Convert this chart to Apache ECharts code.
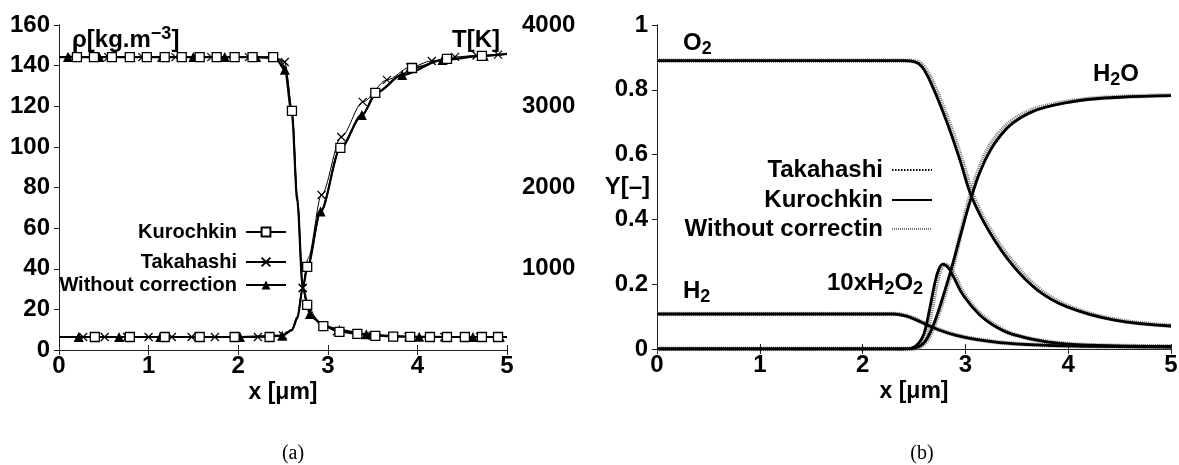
<!DOCTYPE html>
<html><head><meta charset="utf-8">
<script src="https://cdn.jsdelivr.net/npm/echarts/dist/echarts.min.js"></script>
<style>html,body{margin:0;padding:0;background:#fff}#c{width:1179px;height:465px}</style>
</head><body><div id="c"></div>
<script>
// ---------------- shared axis ticks ----------------
const xTickValues = [0, 1, 2, 3, 4, 5];
const rhoTickValues = [0, 20, 40, 60, 80, 100, 120, 140, 160];
const tempTickValues = [0, 1000, 2000, 3000, 4000];
const yTickValues = [0, 0.2, 0.4, 0.6, 0.8, 1];

// ---------------- panel (a): density rho [kg/m3] (left axis) ----------------
// points carrying a marker, and extra curve points without a marker
const rhoKurochkinMarks = [[0.2,144.2],[0.39,144.2],[0.59,144.2],[0.79,144.2],[0.98,144.2],[1.18,144.2],[1.37,144.2],[1.57,144.2],[1.76,144.2],[1.96,144.2],[2.16,144.2],[2.39,144.2],[2.6,117.7],[2.77,22.2],[2.95,11.8],[3.13,8.9],[3.33,7.9],[3.53,7.0],[3.73,6.6],[3.92,6.5],[4.14,6.4],[4.33,6.4],[4.53,6.4],[4.72,6.4],[4.9,6.4]];
const rhoKurochkinCurve = [[0,144.2],[2.46,143],[2.53,138.5],[2.66,74],[2.72,30.5],[2.85,15.2],[5,6.4]];
const rhoTakahashiMarks = [[0.14,144.2],[0.55,144.2],[0.93,144.2],[1.3,144.2],[1.7,144.2],[2.12,144.2],[2.52,141.8],[2.72,30.5],[3.1,9.2],[3.5,7.1],[3.9,6.5],[4.3,6.4],[4.7,6.4]];
const rhoTakahashiCurve = [[0,144.2],[2.42,144],[2.6,119],[2.66,76],[2.77,22.5],[2.9,13.2],[5,6.4]];
const rhoWithoutMarks = [[0.1,144.2],[0.45,144.2],[0.8,144.2],[1.15,144.2],[1.5,144.2],[1.85,144.2],[2.2,144.2],[2.52,138],[2.8,17.7],[3.13,9.8],[3.43,7.8],[3.73,6.8],[4.02,6.5],[4.32,6.4],[4.62,6.4],[4.92,6.4]];
const rhoWithoutCurve = [[0,144.2],[2.42,143.6],[2.6,116],[2.66,73],[2.72,31],[2.95,12],[5,6.4]];

// ---------------- panel (a): temperature T [K] (right axis) ----------------
const tKurochkinMarks = [[0.4,160],[0.79,160],[1.18,160],[1.57,160],[1.96,160],[2.35,160],[2.77,1022],[3.14,2487],[3.53,3164],[3.94,3471],[4.33,3582],[4.72,3619]];
const tKurochkinCurve = [[0,160],[2.5,178],[2.6,250],[2.66,400],[2.72,763],[2.92,1700],[3.39,2895],[3.83,3390],[5,3644]];
const tTakahashiMarks = [[0.27,160],[0.51,160],[0.76,160],[1.0,160],[1.26,160],[1.48,160],[1.74,160],[1.98,160],[2.22,160],[2.5,178],[2.72,763],[2.93,1908],[3.15,2622],[3.39,3053],[3.66,3324],[3.92,3480],[4.16,3557],[4.42,3607],[4.66,3625],[4.9,3636]];
const tTakahashiCurve = [[0,160],[2.6,255],[2.66,420],[2.78,1130],[5,3644]];
const tWithoutMarks = [[0.22,160],[0.67,160],[1.13,160],[1.57,160],[2.02,160],[2.49,176],[2.92,1705],[3.38,2893],[3.83,3385],[4.28,3570],[4.74,3622]];
const tWithoutCurve = [[0,160],[2.6,245],[2.66,390],[2.72,760],[2.77,1010],[3.14,2480],[3.55,3170],[5,3644]];

// ---------------- panel (b): mass fractions Y [-] ----------------
const o2Y = [[0,0.89],[2.4,0.89],[2.5,0.887],[2.58,0.87],[2.68,0.81],[2.82,0.70],[2.95,0.58],[3.06,0.47],[3.24,0.358],[3.46,0.258],[3.7,0.182],[3.99,0.13],[4.44,0.09],[5,0.071]];
const o2YWithout = [[0,0.89],[2.41,0.89],[2.52,0.887],[2.6,0.87],[2.7,0.81],[2.84,0.70],[2.97,0.58],[3.08,0.47],[3.26,0.358],[3.49,0.258],[3.73,0.182],[4.02,0.13],[4.47,0.09],[5,0.072]];
const h2oY = [[0,0],[2.42,0],[2.52,0.004],[2.6,0.02],[2.67,0.06],[2.73,0.11],[2.8,0.18],[2.87,0.255],[2.96,0.36],[3.05,0.46],[3.14,0.545],[3.24,0.612],[3.35,0.662],[3.46,0.697],[3.62,0.728],[3.79,0.747],[4.11,0.767],[4.5,0.777],[5,0.782]];
const h2oYWithout = [[0,0],[2.43,0],[2.53,0.004],[2.61,0.02],[2.68,0.06],[2.74,0.11],[2.81,0.18],[2.88,0.255],[2.96,0.365],[3.04,0.465],[3.13,0.552],[3.22,0.618],[3.33,0.667],[3.44,0.701],[3.6,0.731],[3.77,0.749],[4.09,0.768],[4.5,0.778],[5,0.783]];
const h2Y = [[0,0.108],[2.3,0.108],[2.42,0.102],[2.52,0.09],[2.62,0.075],[2.75,0.058],[2.9,0.043],[3.1,0.03],[3.4,0.018],[3.8,0.011],[4.3,0.008],[5,0.006]];
const h2YWithout = [[0,0.108],[2.31,0.108],[2.43,0.102],[2.53,0.09],[2.63,0.075],[2.76,0.058],[2.91,0.043],[3.11,0.03],[3.41,0.018],[3.81,0.011],[4.3,0.008],[5,0.006]];
const h2o2Y10 = [[0,0],[2.4,0],[2.48,0.003],[2.55,0.02],[2.6,0.05],[2.65,0.12],[2.7,0.2],[2.74,0.245],[2.78,0.262],[2.83,0.252],[2.88,0.225],[2.98,0.165],[3.14,0.105],[3.3,0.068],[3.46,0.045],[3.79,0.022],[4.2,0.012],[5,0.008]];
const h2o2Y10Without = [[0,0],[2.42,0],[2.5,0.003],[2.57,0.02],[2.62,0.05],[2.67,0.12],[2.72,0.2],[2.76,0.245],[2.8,0.26],[2.85,0.25],[2.9,0.223],[3.0,0.163],[3.16,0.104],[3.32,0.067],[3.48,0.044],[3.81,0.022],[4.2,0.012],[5,0.008]];

// ---------------- styling ----------------
const SANS = '"Liberation Sans", Arial, Helvetica, sans-serif';
const SERIF = '"Liberation Serif", "Times New Roman", serif';
const TICK_FONT = {fontFamily: SANS, fontWeight: 'bold', fontSize: 24, color: '#000'};
const AXIS_LINE = {show: true, lineStyle: {color: '#222', width: 1}};
const CROSS = 'path://M0,0L10,10M10,0L0,10';

function merged(marks, curve) {
  const pts = marks.map(p => ({value: p})).concat(curve.map(p => ({value: p, symbol: 'none'})));
  pts.sort((a, b) => a.value[0] - b.value[0]);
  return pts;
}

const styleA = {
  'Kurochkin': {symbol: 'rect', symbolSize: 9, itemStyle: {color: '#fff', borderColor: '#000', borderWidth: 1.3}, lineStyle: {color: '#000', width: 1.6}},
  'Takahashi': {symbol: CROSS, symbolSize: 8, itemStyle: {color: 'rgba(0,0,0,0)', borderColor: '#000', borderWidth: 1.2}, lineStyle: {color: '#000', width: 1}},
  'Without correction': {symbol: 'triangle', symbolSize: 10, itemStyle: {color: '#000', borderColor: '#000', borderWidth: 0}, lineStyle: {color: '#000', width: 2.2}}
};
function seriesA(name, marks, curve, yIdx) {
  const s = styleA[name];
  return Object.assign({type: 'line', name, xAxisIndex: 0, yAxisIndex: yIdx, data: merged(marks, curve),
    smooth: 0.3, smoothMonotone: 'x', showAllSymbol: true, animation: false, silent: true}, s);
}

const styleB = {
  'Without correctin': {color: '#7a7a7a', width: 4.5, type: [1, 1]},
  'Kurochkin_b': {color: '#000', width: 2.8, type: 'solid'},
  'Takahashi_b': {color: '#000', width: 1.6, type: [1.5, 1.5]}
};
function seriesB(name, data) {
  return {type: 'line', name, xAxisIndex: 2, yAxisIndex: 2, data, symbol: 'none', showSymbol: false,
    smooth: 0.4, animation: false, silent: true,
    itemStyle: {color: styleB[name].color}, lineStyle: styleB[name]};
}
const displayName = {'Kurochkin': 'Kurochkin', 'Takahashi': 'Takahashi', 'Without correction': 'Without correction',
  'Takahashi_b': 'Takahashi', 'Kurochkin_b': 'Kurochkin', 'Without correctin': 'Without correctin'};

function legendA(name, centerY) {
  return {data: [name], orient: 'vertical', align: 'right', right: 1179 - 287, top: centerY - 10, padding: 0,
    itemWidth: 40, itemHeight: 11, selectedMode: false, formatter: n => displayName[n],
    textStyle: {fontFamily: SANS, fontWeight: 'bold', fontSize: 20, lineHeight: 20, color: '#000', padding: [0, 4, 0, 0]}};
}
function legendB(name, centerY) {
  return {data: [name], orient: 'vertical', align: 'right', right: 1179 - 933, top: centerY - 12, padding: 0,
    itemWidth: 40, itemHeight: 10, selectedMode: false, formatter: n => displayName[n],
    itemStyle: {color: 'rgba(0,0,0,0)', borderColor: 'rgba(0,0,0,0)', borderWidth: 0},
    textStyle: {fontFamily: SANS, fontWeight: 'bold', fontSize: 24, lineHeight: 24, color: '#000', padding: [0, 4, 0, 0]}};
}

function xAxisPair(grid) {
  const base = {type: 'value', gridIndex: grid, min: xTickValues[0], max: xTickValues[xTickValues.length - 1],
    interval: xTickValues[1] - xTickValues[0], splitLine: {show: false}, axisLine: AXIS_LINE};
  return [
    Object.assign({}, base, {position: 'bottom', axisTick: {inside: true, length: 5, lineStyle: {color: '#222'}},
      axisLabel: Object.assign({margin: 4}, TICK_FONT),
      name: 'x [μm]', nameLocation: 'middle', nameGap: 31, nameMoveOverlap: false,
      nameTextStyle: {fontFamily: SANS, fontWeight: 'bold', fontSize: 23, color: '#000'}}),
    Object.assign({}, base, {position: 'top', axisTick: {inside: true, length: 5, lineStyle: {color: '#222'}},
      axisLabel: {show: false}})
  ];
}

const RICH = {
  m: {fontFamily: SANS, fontWeight: 'bold', fontSize: 24, lineHeight: 30, fill: '#000'},
  sub: {fontFamily: SANS, fontWeight: 'bold', fontSize: 18, lineHeight: 15, verticalAlign: 'bottom', fill: '#000'},
  sup: {fontFamily: SANS, fontWeight: 'bold', fontSize: 18, lineHeight: 17, verticalAlign: 'top', fill: '#000'}
};
function richText(text, x, y, align) {
  return {type: 'text', silent: true, style: {text, x, y, align: align || 'left', verticalAlign: 'middle',
    fill: '#000', font: 'bold 24px ' + SANS, rich: RICH}};
}

const chart = echarts.init(document.getElementById('c'), null, {renderer: 'canvas'});
chart.setOption({
  backgroundColor: '#fff',
  animation: false,
  grid: [
    {left: 59, top: 25, width: 448, height: 325, outerBoundsMode: 'none'},
    {left: 657, top: 25, width: 514, height: 324, outerBoundsMode: 'none'}
  ],
  xAxis: [...xAxisPair(0), ...xAxisPair(1)],
  yAxis: [
    {type: 'value', gridIndex: 0, position: 'left', min: rhoTickValues[0], max: rhoTickValues[rhoTickValues.length - 1],
      interval: rhoTickValues[1] - rhoTickValues[0], splitLine: {show: false}, axisLine: AXIS_LINE,
      axisTick: {show: true, inside: false, length: 5, lineStyle: {color: '#222'}},
      axisLabel: Object.assign({margin: 9}, TICK_FONT)},
    {type: 'value', gridIndex: 0, position: 'right', min: tempTickValues[0], max: tempTickValues[tempTickValues.length - 1],
      interval: tempTickValues[1] - tempTickValues[0], splitLine: {show: false}, axisLine: AXIS_LINE,
      axisTick: {show: true, inside: true, length: 5, lineStyle: {color: '#222'}},
      axisLabel: Object.assign({margin: 15, showMinLabel: false, formatter: v => String(v)}, TICK_FONT)},
    {type: 'value', gridIndex: 1, position: 'left', min: yTickValues[0], max: yTickValues[yTickValues.length - 1],
      interval: yTickValues[1] - yTickValues[0], splitLine: {show: false}, axisLine: AXIS_LINE,
      axisTick: {show: true, inside: false, length: 5, lineStyle: {color: '#222'}},
      axisLabel: Object.assign({margin: 9}, TICK_FONT)},
    {type: 'value', gridIndex: 1, position: 'right', min: yTickValues[0], max: yTickValues[yTickValues.length - 1],
      interval: yTickValues[1] - yTickValues[0], splitLine: {show: false}, axisLine: AXIS_LINE,
      axisTick: {show: true, inside: true, length: 5, lineStyle: {color: '#222'}},
      axisLabel: {show: false}}
  ],
  legend: [
    legendA('Kurochkin', 232), legendA('Takahashi', 262), legendA('Without correction', 285),
    legendB('Takahashi_b', 170), legendB('Kurochkin_b', 200), legendB('Without correctin', 229)
  ],
  series: [
    seriesA('Takahashi', rhoTakahashiMarks, rhoTakahashiCurve, 0),
    seriesA('Takahashi', tTakahashiMarks, tTakahashiCurve, 1),
    seriesA('Without correction', rhoWithoutMarks, rhoWithoutCurve, 0),
    seriesA('Without correction', tWithoutMarks, tWithoutCurve, 1),
    seriesA('Kurochkin', rhoKurochkinMarks, rhoKurochkinCurve, 0),
    seriesA('Kurochkin', tKurochkinMarks, tKurochkinCurve, 1),

    seriesB('Without correctin', o2YWithout),
    seriesB('Without correctin', h2oYWithout),
    seriesB('Without correctin', h2YWithout),
    seriesB('Without correctin', h2o2Y10Without),
    seriesB('Kurochkin_b', o2Y),
    seriesB('Kurochkin_b', h2oY),
    seriesB('Kurochkin_b', h2Y),
    seriesB('Kurochkin_b', h2o2Y10),
    seriesB('Takahashi_b', o2Y),
    seriesB('Takahashi_b', h2oY),
    seriesB('Takahashi_b', h2Y),
    seriesB('Takahashi_b', h2o2Y10)
  ],
  graphic: [
    richText('{m|ρ[kg.m}{sup|−3}{m|]}', 72, 40),
    richText('{m|T[K]}', 500, 40, 'right'),
    richText('{m|O}{sub|2}', 683, 43),
    richText('{m|H}{sub|2}{m|O}', 1093, 74),
    richText('{m|H}{sub|2}', 683, 291),
    richText('{m|10xH}{sub|2}{m|O}{sub|2}', 827, 283),
    {type: 'text', silent: true, style: {text: 'Y[–]', x: 650, y: 187, align: 'right', verticalAlign: 'middle', fill: '#000', font: 'bold 24px ' + SANS}},
    {type: 'text', silent: true, style: {text: '(a)', x: 293, y: 454, align: 'center', verticalAlign: 'middle', fill: '#000', font: '20px ' + SERIF}},
    {type: 'text', silent: true, style: {text: '(b)', x: 922, y: 454, align: 'center', verticalAlign: 'middle', fill: '#000', font: '20px ' + SERIF}}
  ]
});
</script>
</body></html>
